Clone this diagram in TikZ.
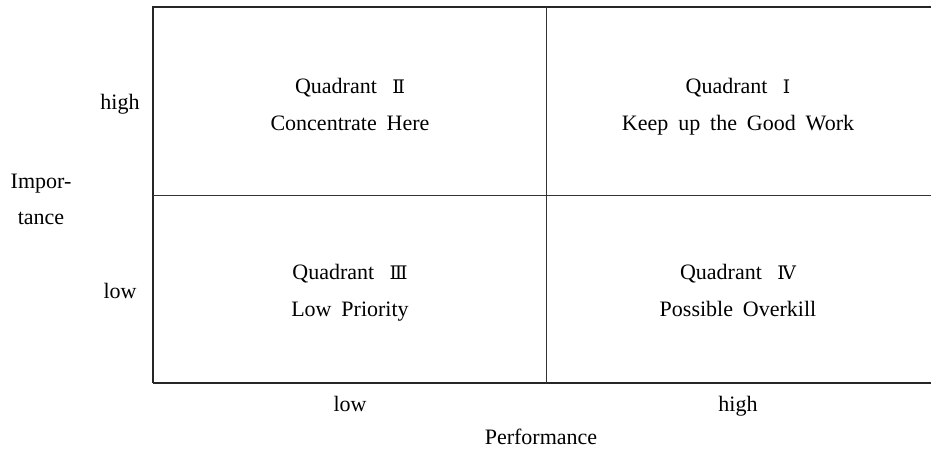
\documentclass[tikz,border=0pt]{standalone}
\usepackage{fontspec}
\setmainfont{Liberation Serif}
\newfontfamily\numfont{DejaVu Serif}
\newcommand\rn[1]{{\numfont\fontsize{14}{16}\selectfont #1}}
\newcommand\gap{\hspace{0.45em}}
\begin{document}
\begin{tikzpicture}[x=0.75pt,y=-0.75pt,
  lbl/.style={font=\fontsize{16.5}{19}\selectfont, inner sep=0pt, anchor=base},
  outer/.style={line width=1.4pt, black!85},
  inner/.style={line width=0.6pt, black!80}]
\useasboundingbox (0,0) rectangle (931,449);
% frame
\draw[outer] (153,383) -- (153,7) -- (931,7);
\draw[outer] (153,383) -- (931,383);
\draw[inner] (546,7) -- (546,383);
\draw[inner] (153,195) -- (931,195);
% quadrant labels
\node[lbl] (q2a) at (350,94) {Quadrant\hspace{0.7em}\rn{Ⅱ}};
\node[lbl] (q2b) at (350,131) {Concentrate\gap Here};
\node[lbl] (q1a) at (738,94) {Quadrant\hspace{0.7em}\rn{Ⅰ}};
\node[lbl] (q1b) at (738,131) {Keep\gap up\gap the\gap Good\gap Work};
\node[lbl] (q3a) at (350,279) {Quadrant\hspace{0.7em}\rn{Ⅲ}};
\node[lbl] (q3b) at (350,316) {Low\gap Priority};
\node[lbl] (q4a) at (738,279) {Quadrant\hspace{0.7em}\rn{Ⅳ}};
\node[lbl] (q4b) at (738,316) {Possible\gap Overkill};
% axis labels
\node[lbl] (yh) at (120,110) {high};
\node[lbl] (yl) at (120,298) {low};
\node[lbl] (ya) at (41,189) {Impor-};
\node[lbl] (yb) at (41,224) {tance};
\node[lbl] (xl) at (350,411) {low};
\node[lbl] (xh) at (738,411) {high};
\node[lbl] (xt) at (541,444) {Performance};
\end{tikzpicture}
\end{document}
